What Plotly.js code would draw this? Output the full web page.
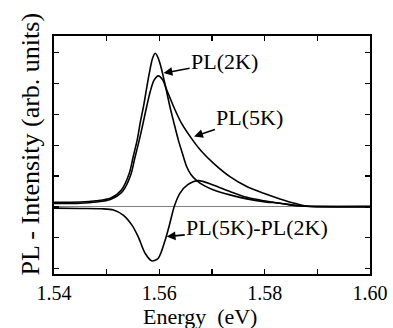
<!DOCTYPE html>
<html>
<head>
<meta charset="utf-8">
<script src="https://cdn.plot.ly/plotly-3.0.1.min.js"></script>
<style>html,body{margin:0;padding:0;background:#fff;}#chart{width:393px;height:328px;}</style>
</head>
<body>
<div id="chart"></div>
<script>
// PL at 2 K
var energy2K = [1.540, 1.545, 1.548, 1.5507, 1.5528, 1.5543, 1.5550, 1.5558, 1.5564, 1.5570, 1.5576, 1.5581, 1.5587, 1.5592, 1.5597, 1.5602, 1.5606, 1.5613, 1.5620, 1.5628, 1.5636, 1.5644, 1.5652, 1.5660, 1.5671, 1.5686, 1.5703, 1.5734, 1.5766, 1.5798, 1.5829, 1.5861, 1.5880, 1.5950, 1.6000];
var pl2K = [0.15, 0.16, 0.20, 0.28, 0.55, 1.09, 1.60, 2.17, 2.75, 3.25, 3.85, 4.33, 4.80, 4.97, 4.85, 4.60, 4.33, 3.80, 3.25, 2.70, 2.17, 1.72, 1.30, 1.05, 0.85, 0.68, 0.55, 0.39, 0.26, 0.17, 0.12, 0.05, 0.02, 0.01, 0.01];
// PL at 5 K
var energy5K = [1.540, 1.545, 1.548, 1.5507, 1.5530, 1.5546, 1.5553, 1.5562, 1.5569, 1.5576, 1.5583, 1.5590, 1.5598, 1.5606, 1.5614, 1.5627, 1.5642, 1.5663, 1.5680, 1.5703, 1.5734, 1.5766, 1.5798, 1.5829, 1.5861, 1.5880, 1.5950, 1.6000];
var pl5K = [0.11, 0.12, 0.16, 0.24, 0.50, 1.05, 1.55, 2.17, 2.70, 3.25, 3.75, 4.10, 4.24, 4.12, 3.79, 3.25, 2.71, 2.17, 1.80, 1.41, 0.98, 0.66, 0.44, 0.26, 0.10, 0.03, 0.01, 0.01];
// Difference PL(5K) - PL(2K)
var energyDiff = [1.540, 1.545, 1.549, 1.5513, 1.5532, 1.5548, 1.5560, 1.5573, 1.5586, 1.5598, 1.5611, 1.5620, 1.5628, 1.5639, 1.5654, 1.5674, 1.5702, 1.5734, 1.5766, 1.5798, 1.5829, 1.5861, 1.5900, 1.6000];
var plDiff = [-0.04, -0.05, -0.06, -0.10, -0.27, -0.59, -0.97, -1.50, -1.75, -1.66, -1.08, -0.53, 0.00, 0.44, 0.72, 0.85, 0.71, 0.50, 0.31, 0.20, 0.12, 0.04, 0.01, 0.01];

var xTickVals = [1.54, 1.55, 1.56, 1.57, 1.58, 1.59, 1.60];
var xTickText = ['1.54', '', '1.56', '', '1.58', '', '1.60'];

var labels = ['PL(2K)', 'PL(5K)', 'PL(5K)-PL(2K)'];
var labelX = [1.5724, 1.5772, 1.5786];
var labelY = [4.69, 2.88, -0.68];
var arrowX = [1.5608, 1.5666, 1.5614];
var arrowY = [4.33, 2.28, -0.96];

var xTitle = 'Energy  (eV)';
var yTitle = 'PL - Intensity (arb. units)';

var FONT = 'Liberation Serif, Times New Roman, serif';
var lineStyle = {color: '#000', width: 1.6, shape: 'spline', smoothing: 0.8};

var traces = [
  {x: energy2K, y: pl2K, mode: 'lines', line: lineStyle, name: 'PL(2K)'},
  {x: energy5K, y: pl5K, mode: 'lines', line: lineStyle, name: 'PL(5K)'},
  {x: energyDiff, y: plDiff, mode: 'lines', line: lineStyle, name: 'PL(5K)-PL(2K)'}
];

var annotations = labels.map(function (t, i) {
  return {
    text: t, x: arrowX[i], y: arrowY[i], xref: 'x', yref: 'y',
    ax: labelX[i], ay: labelY[i], axref: 'x', ayref: 'y',
    showarrow: true, arrowhead: 2, arrowsize: 1.1, arrowwidth: 1.6, arrowcolor: '#000',
    font: {family: FONT, size: 22, color: '#000'}
  };
});
// axis titles, placed as text outside the frame
annotations.push({
  text: yTitle, xref: 'paper', yref: 'paper', x: -0.073, y: 0.548,
  xanchor: 'center', yanchor: 'middle', textangle: -90, showarrow: false,
  font: {family: FONT, size: 26, color: '#000'}
});
annotations.push({
  text: xTitle, xref: 'paper', yref: 'paper', x: 0.462, y: -0.178,
  xanchor: 'center', yanchor: 'middle', showarrow: false,
  font: {family: FONT, size: 22, color: '#000'}
});

var layout = {
  width: 393, height: 328,
  margin: {l: 54, r: 23, t: 36, b: 54},
  paper_bgcolor: '#fff', plot_bgcolor: '#fff',
  showlegend: false,
  font: {family: FONT, color: '#000'},
  xaxis: {
    range: [1.54, 1.60], tickvals: xTickVals, ticktext: xTickText,
    ticks: 'inside', ticklen: 5, tickwidth: 1.2, tickcolor: '#000',
    showline: true, linecolor: '#000', linewidth: 1.6, mirror: 'ticks',
    showgrid: false, zeroline: false,
    tickfont: {family: FONT, size: 20, color: '#000'}
  },
  yaxis: {
    range: [-2.17, 5.53], dtick: 1, tick0: 0,
    ticks: 'inside', ticklen: 5, tickwidth: 1.2, tickcolor: '#000',
    showticklabels: false,
    showline: true, linecolor: '#000', linewidth: 1.6, mirror: 'ticks',
    showgrid: false, zeroline: true, zerolinecolor: '#808080', zerolinewidth: 1
  },
  annotations: annotations
};

Plotly.newPlot('chart', traces, layout, {displayModeBar: false, staticPlot: true});
</script>
</body>
</html>
